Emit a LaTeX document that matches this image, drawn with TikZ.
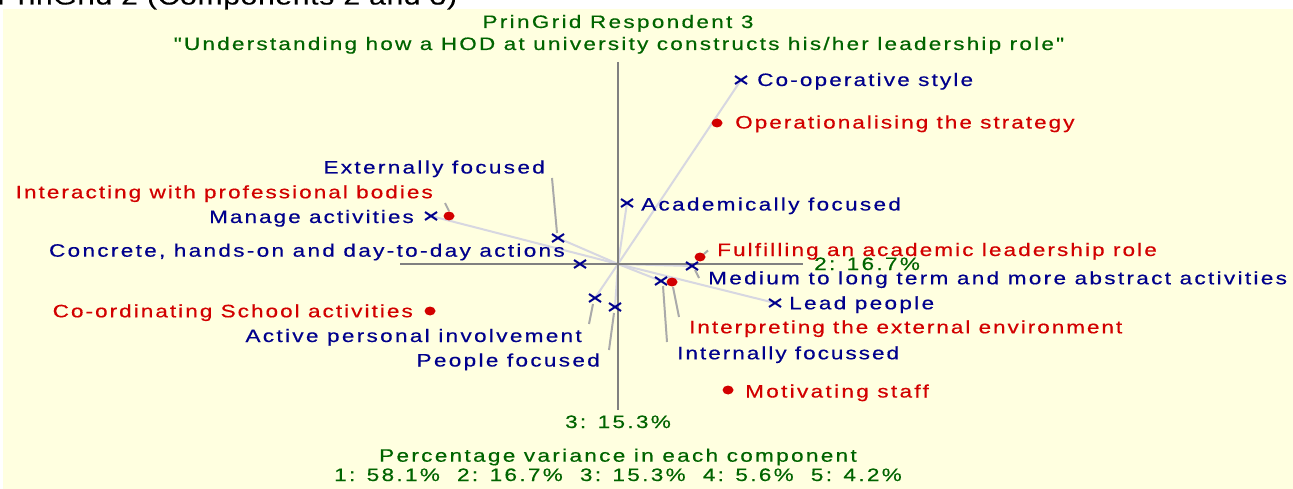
\documentclass[tikz,border=0pt]{standalone}
\usepackage{fontspec}
\newfontfamily\lbl{Liberation Sans}[FakeStretch=1.25, LetterSpace=13, FakeBold=0.5]
\newfontfamily\topfont{Liberation Sans}[FakeStretch=1.25, LetterSpace=3, FakeBold=0.4]
\definecolor{bgyellow}{RGB}{255,255,224}
\definecolor{navy}{RGB}{0,0,140}
\definecolor{elred}{RGB}{210,0,0}
\definecolor{dkgreen}{RGB}{0,100,0}
\definecolor{axisgray}{RGB}{128,128,128}
\definecolor{vecgray}{RGB}{215,215,225}
\definecolor{leadgray}{RGB}{170,170,170}
\tikzset{
  lab/.style={inner sep=0pt, font=\lbl\fontsize{18}{21}\selectfont},
  tracking/.style={font=\lbl\fontsize{18}{21}\selectfont\addfontfeature{LetterSpace=#1}},
  conlab/.style={lab, text=navy},
  ellab/.style={lab, text=elred},
  grlab/.style={lab, text=dkgreen},
  vec/.style={draw=vecgray, line width=2pt},
  axisline/.style={draw=axisgray, line width=2pt},
  leader/.style={draw=leadgray, line width=2pt},
  xcross/.pic={\draw[navy, line width=2pt] (-6,-4)--(6,4) (-6,4)--(6,-4);},
  reddot/.pic={\fill[elred] (0,0) ellipse [x radius=5.5, y radius=4.5];}
}
\begin{document}
\begin{tikzpicture}[x=1pt,y=-1pt]
\useasboundingbox (0,0) rectangle (1293,489);
\fill[bgyellow] (3,9) rectangle (1293,489);
% cropped caption above the chart
\node[inner sep=0pt, anchor=base west, font=\topfont\fontsize{24}{28}\selectfont] (caption) at (-3,4.5) {PrinGrid 2 (Components 2 and 3)};
% title
\node[grlab, anchor=base] (title1) at (618,28) {PrinGrid Respondent 3};
\node[grlab, tracking=12.4, anchor=base] (title2) at (619,50) {"Understanding how a HOD at university constructs his/her leadership role"};
% origin and axis ends
\coordinate (O) at (618,264);
\coordinate (axL) at (400,264);
\coordinate (axR) at (803,264);
\coordinate (axT) at (618,62);
\coordinate (axB) at (618,410);
% construct points
\coordinate (c1) at (741,80);
\coordinate (c2) at (627,203);
\coordinate (c3) at (431,216);
\coordinate (c4) at (558,238);
\coordinate (c5) at (580,264);
\coordinate (c6) at (692,266);
\coordinate (c7) at (661,281);
\coordinate (c8) at (775,303);
\coordinate (c9) at (595,298);
\coordinate (c10) at (615,307);
% element points
\coordinate (e1) at (717,123);
\coordinate (e2) at (449,216);
\coordinate (e3) at (700,257);
\coordinate (e4) at (672,282);
\coordinate (e5) at (430,311);
\coordinate (e6) at (728,390);
% vectors
\foreach \c in {c1,c2,c3,c4,c5,c6,c7,c8,c9,c10} \draw[vec] (O) -- (\c);
% axes
\draw[axisline] (axL) -- (axR);
\draw[axisline] (axT) -- (axB);
% leader ends
\coordinate (l4a) at (552,178); \coordinate (l4b) at (557,233);
\coordinate (l6a) at (695,270); \coordinate (l6b) at (699,278);
\coordinate (l7a) at (663,286); \coordinate (l7b) at (667,342);
\coordinate (l9a) at (593,304); \coordinate (l9b) at (589,324);
\coordinate (l10a) at (614,313); \coordinate (l10b) at (609,350);
\coordinate (m2a) at (449,211); \coordinate (m2b) at (445,203);
\coordinate (m3a) at (704,254); \coordinate (m3b) at (708,250.5);
\coordinate (m4a) at (673,287); \coordinate (m4b) at (679,317);
\draw[leader] (l4a) -- (l4b);
\draw[leader] (l6a) -- (l6b);
\draw[leader] (l7a) -- (l7b);
\draw[leader] (l9a) -- (l9b);
\draw[leader] (l10a) -- (l10b);
\draw[leader] (m2a) -- (m2b);
\draw[leader] (m3a) -- (m3b);
\draw[leader] (m4a) -- (m4b);
% markers
\foreach \c in {c1,c2,c3,c4,c5,c6,c7,c8,c9,c10} \pic at (\c) {xcross};
\foreach \e in {e1,e2,e3,e4,e5,e6} \pic at (\e) {reddot};
% construct labels
\node[conlab, tracking=12, anchor=base west] (t1) at (757,86) {Co-operative style};
\node[conlab, anchor=base west] (t2) at (641,210.5) {Academically focused};
\node[conlab, tracking=11.4, anchor=base east] (t3) at (414,223) {Manage activities};
\node[conlab, anchor=base east] (t4) at (545,173.5) {Externally focused};
\node[conlab, anchor=base east] (t5) at (565,256.7) {Concrete, hands-on and day-to-day actions};
\node[conlab, anchor=base west] (t6) at (708,284.3) {Medium to long term and more abstract activities};
\node[conlab, tracking=11.2, anchor=base west] (t7) at (677,359.3) {Internally focussed};
\node[conlab, anchor=base west] (t8) at (789,309.3) {Lead people};
\node[conlab, anchor=base east] (t9) at (582,342) {Active personal involvement};
\node[conlab, anchor=base east] (t10) at (600,366.5) {People focused};
% element labels
\node[ellab, tracking=11.3, anchor=base west] (u1) at (735,128.5) {Operationalising the strategy};
\node[ellab, tracking=11.4, anchor=base east] (u2) at (433,198.3) {Interacting with professional bodies};
\node[ellab, tracking=11.7, anchor=base west] (u3) at (717,256) {Fulfilling an academic leadership role};
\node[ellab, tracking=11, anchor=base west] (u4) at (689,333.3) {Interpreting the external environment};
\node[ellab, tracking=11.4, anchor=base east] (u5) at (413,317.3) {Co-ordinating School activities};
\node[ellab, anchor=base west] (u6) at (745,397.5) {Motivating staff};
% axis labels and footer
\node[grlab, anchor=base west] (ax2) at (814,270) {2: 16.7\%};
\node[grlab, anchor=base] (ax3) at (618,428) {3: 15.3\%};
\node[grlab, anchor=base] (foot1) at (618,461.7) {Percentage variance in each component};
\node[grlab, anchor=base] (foot2) at (618,481) {1: 58.1\%\ \ 2: 16.7\%\ \ 3: 15.3\%\ \ 4: 5.6\%\ \ 5: 4.2\%};
\end{tikzpicture}
\end{document}
